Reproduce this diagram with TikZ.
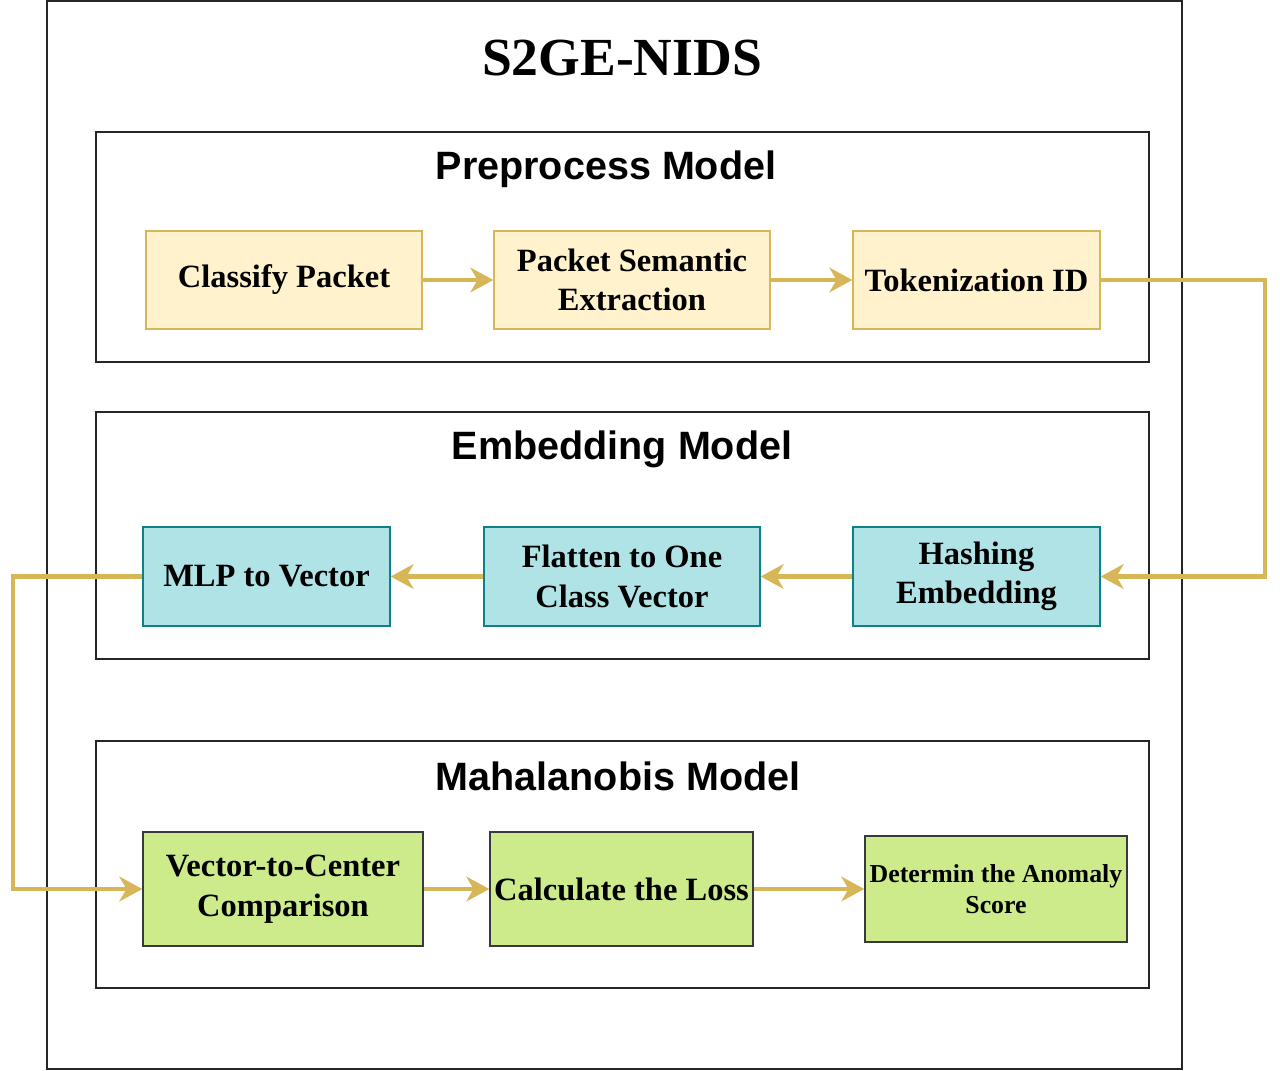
\documentclass[tikz,border=0pt]{standalone}
\usepackage{fontspec}
\setmainfont{Liberation Serif}
\newfontfamily\headfont{Liberation Sans}
\usetikzlibrary{arrows.meta}
\definecolor{prefill}{HTML}{FFF2CC}
\definecolor{predraw}{HTML}{D6B656}
\definecolor{embfill}{HTML}{B0E3E6}
\definecolor{embdraw}{HTML}{0E8088}
\definecolor{mahfill}{HTML}{CDEB8B}
\definecolor{mahdraw}{HTML}{36393D}
\tikzset{
  panel/.style={draw=black!85, line width=0.8pt},
  paneltitle/.style={font=\headfont\bfseries\fontsize{22.5}{26}\selectfont},
  prebox/.style={draw=predraw, fill=prefill, line width=0.8pt, align=center,
    inner sep=1pt, font=\bfseries\fontsize{18.5}{22.5}\selectfont},
  embbox/.style={prebox, draw=embdraw, fill=embfill},
  mahbox/.style={prebox, draw=mahdraw, fill=mahfill},
  flow/.style={draw=predraw, line width=2.4pt,
    -{Stealth[length=13pt,width=14pt,inset=4pt]}}
}
\begin{document}
\begin{tikzpicture}
  \useasboundingbox (0,0) rectangle (25.6,-21.42);
  \draw[panel] (0.94,-0.02) rectangle (23.64,-21.38);
  \node (title) at (12.44,-1.16) {\bfseries\fontsize{30.5}{34}\selectfont S2GE-NIDS};
  % panels
  \draw[panel] (1.92,-2.64) rectangle (22.98,-7.24);
  \draw[panel] (1.92,-8.24) rectangle (22.98,-13.18);
  \draw[panel] (1.92,-14.82) rectangle (22.98,-19.76);
  \node (pretitle) at (12.12,-3.38) [paneltitle] {Preprocess Model};
  \node (embtitle) at (12.44,-8.98) [paneltitle] {Embedding Model};
  \node (mahtitle) at (12.36,-15.52) [paneltitle] {Mahalanobis Model};
  % preprocess
  \node (classify) at (5.68,-5.60) [prebox, minimum width=5.52cm,
    minimum height=1.96cm] {\raisebox{-2pt}{Classify Packet}};
  \node (semantic) at (12.64,-5.60) [prebox, minimum width=5.52cm,
    minimum height=1.96cm] {Packet Semantic\\Extraction};
  \node (token) at (19.53,-5.60) [prebox, minimum width=4.94cm,
    minimum height=1.96cm] {\raisebox{-1pt}{Tokenization ID}};
  % embedding
  \node (mlp) at (5.33,-11.53) [embbox, minimum width=4.94cm,
    minimum height=1.98cm] {\raisebox{-1pt}{MLP to Vector}};
  \node (flatten) at (12.44,-11.53) [embbox, minimum width=5.52cm,
    minimum height=1.98cm] {Flatten to One\\Class Vector};
  \node (hashing) at (19.53,-11.53) [embbox, minimum width=4.94cm,
    minimum height=1.98cm] {Hashing\\Embedding};
  % mahalanobis
  \node (center) at (5.66,-17.78) [mahbox, minimum width=5.60cm,
    minimum height=2.28cm] {Vector-to-Center\\Comparison};
  \node (loss) at (12.43,-17.78) [mahbox, minimum width=5.26cm,
    minimum height=2.28cm] {Calculate the Loss};
  \node (score) at (19.92,-17.78) [mahbox, minimum width=5.24cm,
    minimum height=2.12cm, font=\bfseries\fontsize{14.7}{18}\selectfont]
    {Determin the Anomaly\\Score};
  % connectors
  \coordinate (rturn) at (25.30,0); \coordinate (lturn) at (0.26,0);
  \draw[flow] (classify.east) -- (semantic.west);
  \draw[flow] (semantic.east) -- (token.west);
  \draw[flow] (token.east) -- (token.east -| rturn) |- (hashing.east);
  \draw[flow] (hashing.west) -- (flatten.east);
  \draw[flow] (flatten.west) -- (mlp.east);
  \draw[flow] (mlp.west) -- (mlp.west -| lturn) |- (center.west);
  \draw[flow] (center.east) -- (loss.west);
  \draw[flow] (loss.east) -- (score.west);
\end{tikzpicture}
\end{document}
